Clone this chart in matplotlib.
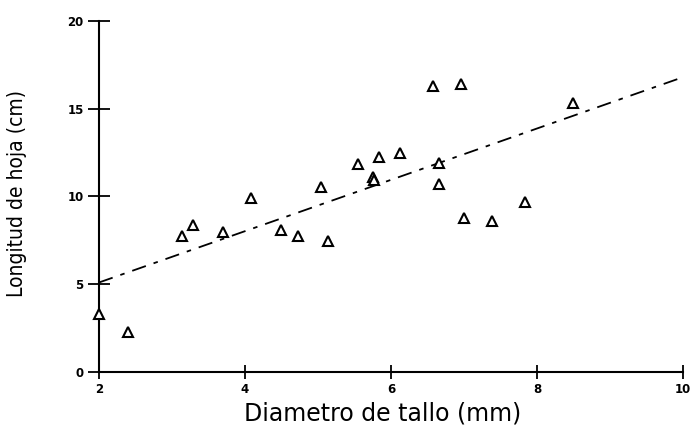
import matplotlib.pyplot as plt

# stem diameter (mm) vs leaf length (cm)
diametro = [2.0, 2.4, 3.14, 3.29, 3.7, 4.08, 4.49, 4.73, 5.04, 5.14,
            5.55, 5.84, 5.75, 5.77, 6.12, 6.58, 6.66, 6.66, 6.96, 7.0,
            7.38, 7.84, 8.49]
longitud = [3.3, 2.3, 7.75, 8.4, 8.0, 9.9, 8.1, 7.75, 10.55, 7.45,
            11.85, 12.25, 11.1, 10.95, 12.5, 16.3, 11.9, 10.7, 16.4, 8.75,
            8.6, 9.7, 15.3]

# regression line endpoints
recta_x = [2, 10]
recta_y = [5.1, 16.8]

xticks = [2, 4, 6, 8, 10]
yticks = [0, 5, 10, 15, 20]


def main():
    fig = plt.figure(figsize=(6.9, 4.34), dpi=100)
    ax = fig.add_axes([0.1435, 0.1429, 0.8464, 0.8087])

    ax.plot(recta_x, recta_y, color='black', lw=1.3,
            linestyle=(0, (8, 4.5, 2.5, 4.5)), clip_on=False)
    ax.plot(diametro, longitud, linestyle='none', marker='^', ms=7.5,
            mfc='white', mec='black', mew=1.5, clip_on=False, zorder=3)

    ax.set_xlim(2, 10)
    ax.set_ylim(0, 20)
    ax.set_xticks(xticks)
    ax.set_yticks(yticks)
    for side in ('top', 'right'):
        ax.spines[side].set_visible(False)
    for side in ('left', 'bottom'):
        ax.spines[side].set_linewidth(1.5)
    ax.tick_params(axis='y', direction='inout', length=16, width=1.3,
                   pad=3, labelsize=8.5)
    ax.tick_params(axis='x', direction='inout', length=10, width=1.3,
                   pad=3, labelsize=8.5)
    for lab in ax.get_xticklabels() + ax.get_yticklabels():
        lab.set_fontweight('bold')

    fig.text(0.555, 0.048, 'Diametro de tallo (mm)', ha='center',
             va='center', fontsize=17, family='DejaVu Sans')
    fig.text(0.025, 0.555, 'Longitud de hoja (cm)', rotation=90,
             ha='center', va='center', fontsize=15, family='DejaVu Sans',
             stretch='condensed')

    fig.savefig('out.png', dpi=100)


if __name__ == '__main__':
    main()
